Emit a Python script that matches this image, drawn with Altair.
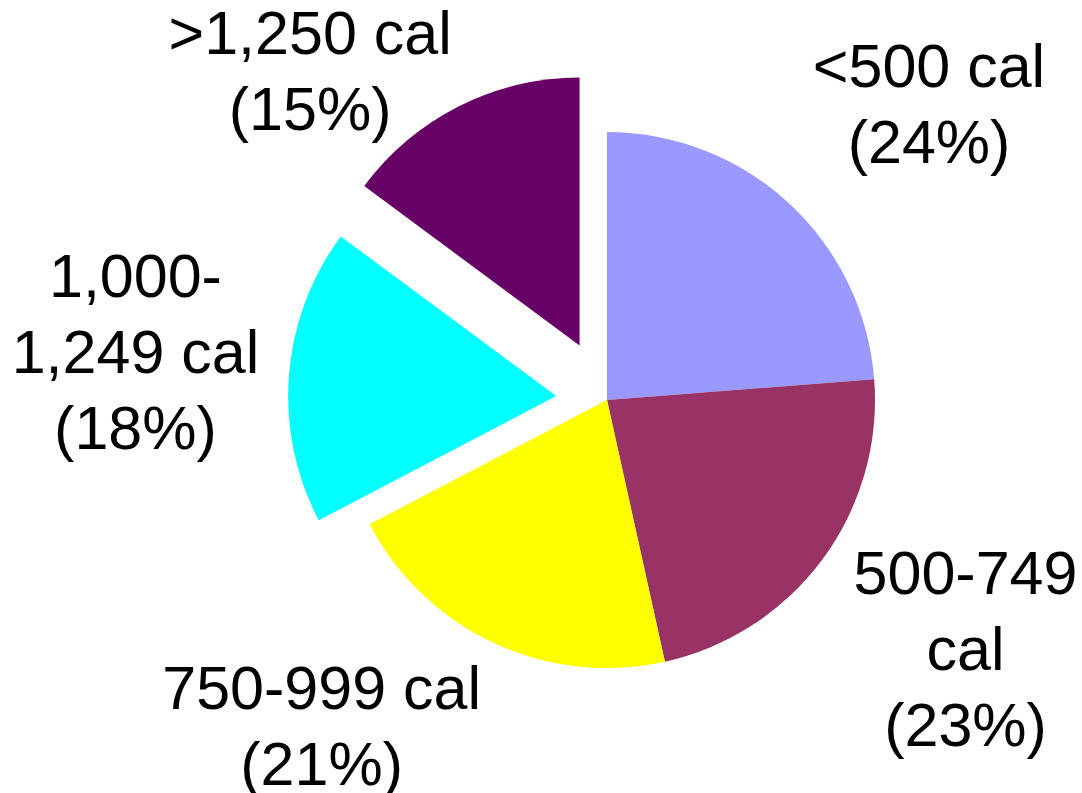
import math

import altair as alt
import pandas as pd

# Share of meals by calorie band (percent, as labelled)
categories = ["<500 cal", "500-749 cal", "750-999 cal", "1,000-1,249 cal", ">1,250 cal"]
shares = [24, 23, 21, 18, 15]
label_lines = ["<500 cal", "500-749\ncal", "750-999 cal", "1,000-\n1,249 cal", ">1,250 cal"]
colors = ["#9999FF", "#993366", "#FFFF00", "#00FFFF", "#660066"]

# Layout
CX, CY = 607, 400          # pie centre in pixels
RADIUS = 268
EXPLODE = {"1,000-1,249 cal": 51, ">1,250 cal": 61}
LABEL_RADIUS = 430
LINE_HEIGHT = 76
LABEL_NUDGE = {
    "<500 cal": (30, 23),
    "500-749 cal": (13, -4),
    "750-999 cal": (-104, -61),
    "1,000-1,249 cal": (8, -8),
    ">1,250 cal": (-76, 113),
}
FONT = "Liberation Sans"

total = sum(shares)
starts, ends = [], []
acc = 0
for s in shares:
    starts.append(acc)
    acc += s
    ends.append(acc)

df = pd.DataFrame({
    "category": categories,
    "share": shares,
    "start": starts,
    "end": ends,
    "mid": [(a + b) / 2 for a, b in zip(starts, ends)],
    "label": [f"{t}\n({s}%)" for t, s in zip(label_lines, shares)],
})

theta_scale = alt.Scale(domain=[0, total], range=[0, 2 * math.pi])
color_scale = alt.Scale(domain=categories, range=colors)


def origin(cat, mid):
    """Centre of a wedge, pushed outward along its bisector if exploded."""
    ang = mid / total * 2 * math.pi
    d = EXPLODE.get(cat, 0)
    return CX + d * math.sin(ang), CY - d * math.cos(ang)


layers = []
for cat, mid in zip(df["category"], df["mid"]):
    ox, oy = origin(cat, mid)
    wedge = alt.Chart(df).transform_filter(
        alt.datum.category == cat
    ).mark_arc(radius=RADIUS, stroke=None).encode(
        theta=alt.Theta("start:Q", scale=theta_scale, stack=None),
        theta2="end:Q",
        color=alt.Color("category:N", scale=color_scale, legend=None),
        x=alt.value(ox),
        y=alt.value(oy),
    )
    layers.append(wedge)

for cat, mid, text in zip(df["category"], df["mid"], df["label"]):
    ox, oy = origin(cat, mid)
    ndx, ndy = LABEL_NUDGE[cat]
    # centre the multi-line block vertically on its anchor
    n_lines = text.count("\n") + 1
    ndy -= (n_lines - 1) * LINE_HEIGHT / 2

    label = alt.Chart(df).transform_filter(
        alt.datum.category == cat
    ).mark_text(
        radius=LABEL_RADIUS,
        dx=ndx,
        dy=ndy,
        font=FONT,
        fontSize=61,
        lineBreak="\n",
        lineHeight=LINE_HEIGHT,
        align="center",
        baseline="middle",
        color="black",
    ).encode(
        theta=alt.Theta("mid:Q", scale=theta_scale, stack=None),
        text="label:N",
        x=alt.value(ox),
        y=alt.value(oy),
    )
    layers.append(label)

chart = alt.layer(*layers).properties(
    width=1082,
    height=793,
    padding=0,
    autosize=alt.AutoSizeParams(type="none"),
    background="white",
).configure_view(stroke=None)

chart.save("out.html", embed_options={"renderer": "svg", "actions": False})
